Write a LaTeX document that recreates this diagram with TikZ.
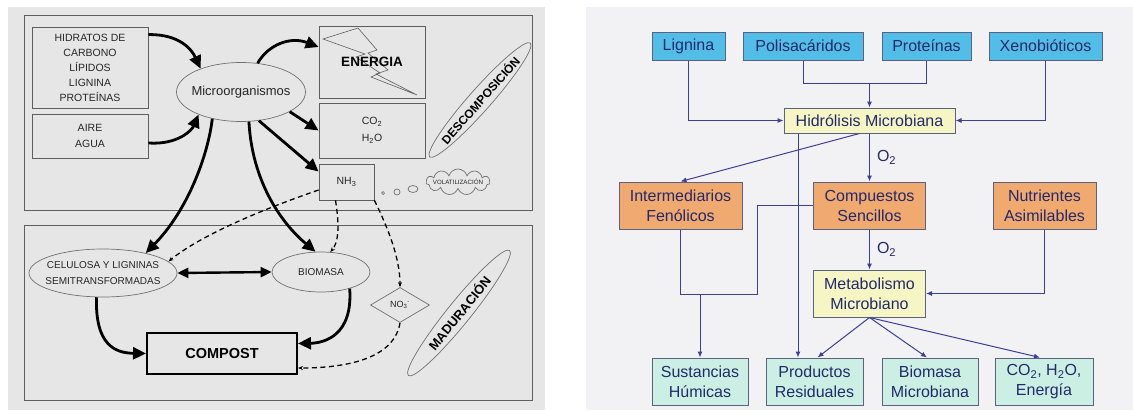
\documentclass[tikz,border=0pt]{standalone}
\usepackage{fontspec}
\setmainfont{Liberation Sans}
\usetikzlibrary{shapes.geometric, shapes.symbols, arrows.meta, positioning}

\definecolor{panelL}{HTML}{E6E6E6}
\definecolor{panelR}{HTML}{F2F2F4}
\definecolor{frameL}{HTML}{5E5E5E}
\definecolor{ellL}{HTML}{707070}
\definecolor{textL}{HTML}{262626}
\definecolor{fillsrc}{HTML}{52BEE8}
\definecolor{fillmid}{HTML}{F0A96E}
\definecolor{fillhyd}{HTML}{F6F5C4}
\definecolor{fillend}{HTML}{CBF0E3}
\definecolor{edgeR}{HTML}{5A6284}
\definecolor{lineR}{HTML}{3D3D9C}
\definecolor{textR}{HTML}{23296B}

\begin{document}
\begin{tikzpicture}[%
	x=1pt, y=-1pt,              % pixel-like units, y grows downward
	every node/.style={inner sep=0pt, align=center},
	]
	% -------------------------------------------------
	% Box and line styles
	\tikzset{
		% left panel (decomposition / maturation)
		lbox/.style={draw=frameL, line width=0.8pt, text=textL, font=\fontsize{10.5}{15}\selectfont},
		lell/.style={ellipse, draw=ellL, line width=0.7pt, text=textL},
		stagelab/.style={lell, font=\bfseries\fontsize{12}{14}\selectfont, text=black},
		sepframe/.style={draw=frameL, line width=0.9pt},
		bigarr/.style={line width=2.8pt, -{Triangle[length=13pt,width=12pt]}},
		duoarr/.style={line width=2.4pt, {Triangle[length=11pt,width=10pt]}-{Triangle[length=11pt,width=10pt]}},
		dasharr/.style={line width=1.3pt, dash pattern=on 5pt off 3.5pt, -{Stealth[length=5pt,width=4pt]}},
		puff/.style={draw=ellL, line width=0.7pt},
		% right panel (metabolic flow)
		rbox/.style={draw=edgeR, line width=1pt, text=textR, font=\fontsize{16}{20}\selectfont},
		srcbox/.style={rbox, fill=fillsrc, minimum height=28},
		midbox/.style={rbox, fill=fillmid, minimum height=47},
		hydbox/.style={rbox, fill=fillhyd},
		endbox/.style={rbox, fill=fillend, minimum height=47},
		rline/.style={draw=lineR, line width=1pt},
		rarr/.style={rline, -{Latex[length=6pt,width=5pt]}},
		gaslab/.style={text=textR, font=\fontsize{16}{20}\selectfont}
	}

	\useasboundingbox (0,0) rectangle (1133,410);
	\fill[white] (0,0) rectangle (1133,410);
	\fill[panelL] (8,7) rectangle (545,410);
	\fill[panelR] (586,7) rectangle (1133,410);

	% ------------------------------------------------- left panel
	\draw[sepframe] (24,15) rectangle (532,210);
	\draw[sepframe] (24,225) rectangle (532,400);

	\node[lbox, minimum width=116, minimum height=81] (hidratos) at (90,67.5)
		{HIDRATOS DE\\CARBONO\\LÍPIDOS\\LIGNINA\\PROTEÍNAS};
	\node[lbox, minimum width=116, minimum height=44, font=\fontsize{10.5}{16}\selectfont] (aire) at (90,136) {AIRE\\AGUA};
	\node[lell, minimum width=129, minimum height=59, inner xsep=-8pt, font=\fontsize{13}{15}\selectfont] (micro) at (241,92) {Microorganismos};

	\node[lbox, minimum width=106, minimum height=72] (energia) at (372,62) {};
	\draw[frameL, line width=0.6pt] (323,39) -- (358,28) -- (377,50) -- (368,53) -- (388,70) -- (376,74)
		-- (417,95) -- (371,77) -- (380,73) -- (356,57) -- (365,54) -- cycle;
	\node[text=black, font=\bfseries\fontsize{13.5}{15}\selectfont] (energiatxt) at (energia) {ENERGIA};
	\node[lbox, minimum width=106, minimum height=55, font=\fontsize{10.5}{17}\selectfont] (co2) at (372,130.5) {CO\textsubscript{2}\\H\textsubscript{2}O};
	\node[lbox, minimum width=55, minimum height=36] (nh3) at (346.5,182) {NH\textsubscript{3}};

	\node[puff, circle, minimum size=3] (puffa) at (383,193) {};
	\node[puff, circle, minimum size=6] (puffb) at (397,192) {};
	\node[puff, ellipse, minimum width=10, minimum height=7] (puffc) at (413,189) {};
	\node[puff, cloud, cloud puffs=11, aspect=2.4, minimum width=64, minimum height=26, inner xsep=-14pt,
		text=textL, font=\fontsize{6.2}{7}\selectfont] (volat) at (458,182) {VOLATILIZACIÓN};
	\node[stagelab, rotate=48.5, minimum width=152, minimum height=22, inner xsep=-10pt] (descomp) at (480,100) {DESCOMPOSICIÓN};

	\node[lell, minimum width=148, minimum height=48, inner xsep=-12pt, font=\fontsize{10}{16}\selectfont] (celulosa) at (103,273)
		{CELULOSA Y LIGNINAS\\SEMITRANSFORMADAS};
	\node[lell, minimum width=98, minimum height=40, font=\fontsize{10}{12}\selectfont] (biomasa) at (321,272) {BIOMASA};
	\node[diamond, draw=ellL, line width=0.7pt, aspect=1.7, minimum width=59, minimum height=35,
		text=textL, font=\fontsize{9}{10}\selectfont] (no3) at (400,305) {NO\textsubscript{3}\textsuperscript{-}};
	\node[stagelab, rotate=51, minimum width=161, minimum height=23, inner xsep=-6pt, font=\bfseries\fontsize{13}{14}\selectfont] (madura) at (459,313) {MADURACIÓN};
	\node[draw=black, line width=2pt, minimum width=150, minimum height=41, font=\bfseries\fontsize{14.5}{16}\selectfont] (compost) at (222,353.5) {COMPOST};

	% solid flows
	\draw[bigarr] ([yshift=-8pt]hidratos.north east) .. controls (180,34) and (192,50) .. (micro.150);
	\draw[bigarr] ([yshift=-7pt]aire.east) .. controls (178,145) and (192,130) .. (micro.208);
	\draw[bigarr] (micro.60) .. controls (268,45) and (290,36) .. ([yshift=15pt]energia.west);
	\draw[bigarr] (micro.-22) -- (co2.west);
	\draw[bigarr] (micro.-58) -- ([yshift=-8pt]nh3.north west);
	\draw[bigarr] (micro.-137) .. controls (208,155) and (188,210) .. (celulosa.25);
	\draw[bigarr] (micro.-75) .. controls (252,180) and (280,222) .. (biomasa.105);
	\draw[bigarr] (celulosa.-105) .. controls (95,345) and (115,353) .. (compost.west);
	\draw[bigarr] (biomasa.-30) .. controls (353,335) and (325,343) .. ([yshift=10pt]compost.east);
	\draw[duoarr] (celulosa.east) -- (biomasa.west);

	% nitrogen paths
	\draw[dasharr] ([yshift=-8pt]nh3.west) .. controls (275,205) and (205,232) .. (celulosa.10);
	\draw[dasharr] ([xshift=-11pt]nh3.south) .. controls (340,228) and (338,243) .. (biomasa.65);
	\draw[dasharr] (nh3.south east) .. controls (388,228) and (400,258) .. (no3.north);
	\draw[dasharr] (no3.south) .. controls (395,355) and (355,368) .. ([yshift=-14.5pt]compost.east);

	% ------------------------------------------------- right panel
	\node[srcbox, minimum width=73] (lignina) at (688.5,46) {Lignina};
	\node[srcbox, minimum width=120] (polisac) at (803,46) {Polisacáridos};
	\node[srcbox, minimum width=89] (proteinas) at (926.5,46) {Proteínas};
	\node[srcbox, minimum width=113] (xeno) at (1045.5,46) {Xenobióticos};
	\node[hydbox, minimum width=171, minimum height=25] (hidrolisis) at (869.5,120.5) {Hidrólisis Microbiana};

	\node[midbox, minimum width=123] (interm) at (680.5,205.5) {Intermediarios\\Fenólicos};
	\node[midbox, minimum width=112] (compuestos) at (869.5,205.5) {Compuestos\\Sencillos};
	\node[midbox, minimum width=103] (nutrientes) at (1044.5,205.5) {Nutrientes\\Asimilables};
	\node[hydbox, minimum width=112, minimum height=47] (metab) at (869.5,293.5) {Metabolismo\\Microbiano};

	\node[endbox, minimum width=96] (sustancias) at (700,381.5) {Sustancias\\Húmicas};
	\node[endbox, minimum width=97] (productos) at (814.5,381.5) {Productos\\Residuales};
	\node[endbox, minimum width=96] (biomicro) at (930,381.5) {Biomasa\\Microbiana};
	\node[endbox, minimum width=98] (co2e) at (1044,381.5) {CO\textsubscript{2}, H\textsubscript{2}O,\\Energía};

	\coordinate (jtop) at (869.5,83);
	\coordinate (jbend) at (757,294);
	\coordinate (jhum) at (700,294);

	\draw[rarr] (lignina) |- (hidrolisis);
	\draw[rline] (polisac) |- (jtop);
	\draw[rline] (proteinas) |- (jtop);
	\draw[rarr] (jtop) -- (hidrolisis.north);
	\draw[rarr] (xeno) |- (hidrolisis);
	\draw[rarr] (hidrolisis) -- node[gaslab, right=7pt] (o2a) {O\textsubscript{2}} (compuestos);
	\draw[rarr] ([xshift=-10pt]hidrolisis.south) -- (interm.north);
	\draw[rarr] ([xshift=-71.5pt]hidrolisis.south) -- ([xshift=-16.5pt]productos.north);

	\draw[rarr] (compuestos) -- node[gaslab, right=7pt] (o2b) {O\textsubscript{2}} (metab);
	\draw[rarr] (nutrientes) |- (metab);
	\draw[rline] (compuestos.west) -| (jbend) -- (jhum);
	\draw[rline] (interm.south) |- (jhum);
	\draw[rarr] (jhum) -- (sustancias.north);

	\draw[rarr] (metab.south) -- ([xshift=3pt]productos.north);
	\draw[rarr] (metab.south) -- ([xshift=-3pt]biomicro.north);
	\draw[rarr] (metab.south) -- ([xshift=-4pt]co2e.north);
\end{tikzpicture}
\end{document}
